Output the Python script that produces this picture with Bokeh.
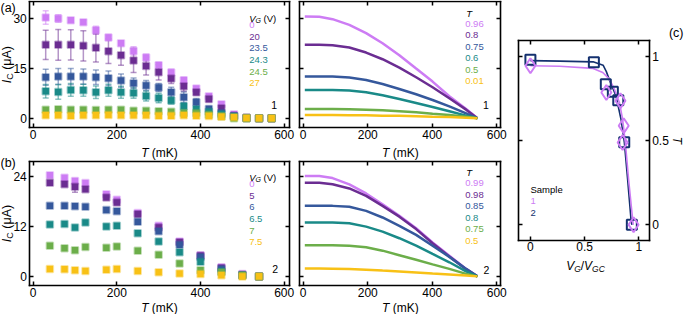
import math
from bokeh.plotting import figure
from bokeh.models import Range1d, LinearAxis, FixedTicker, Label
from bokeh.embed import file_html
from bokeh.resources import INLINE

FONT = "Liberation Sans"

PINK = "#cd7cf4"
PURPLE = "#6b2d92"
BLUE = "#35589c"
TEAL = "#1a8a88"
GREEN = "#6cae4a"
YELLOW = "#f8c116"
NAVY = "#14316f"
COLORS = [PINK, PURPLE, BLUE, TEAL, GREEN, YELLOW]

# ---------------- (a) sample 1 : measured Ic(T) ----------------
T_a = [30, 60, 90, 120, 150, 180, 210, 240, 270, 300, 330, 360, 390, 420, 450, 480, 510, 540, 570]
VG_a = ["0", "20", "23.5", "24.3", "24.5", "27"]
Ic_a_0 = [30.2, 29.9, 29.4, 28.8, 26.4, 24.2, 22.5, 20.2, 18.2, 15.9, 13.7, 11.4, 8.9, 6.6, 4.2, 1.2, 0.2, 0.0, 0.0]
Ic_a_20 = [22.0, 22.0, 22.0, 21.7, 21.1, 20.1, 18.9, 17.3, 15.7, 13.8, 11.9, 9.6, 7.8, 5.8, 3.0, 0.8, 0.1, 0.0, 0.0]
Ic_a_235 = [12.3, 12.5, 12.5, 12.5, 12.3, 12.0, 11.3, 10.5, 9.8, 9.2, 7.8, 6.3, 4.8, 2.8, 1.6, 0.6, 0.1, 0.0, 0.0]
Ic_a_243 = [8.1, 7.9, 8.5, 8.4, 7.8, 8.4, 7.8, 7.6, 6.7, 6.1, 5.3, 3.6, 2.7, 2.0, 1.2, 0.6, 0.1, 0.0, 0.0]
Ic_a_245 = [2.6, 2.7, 2.6, 2.6, 2.5, 2.6, 2.6, 2.3, 2.3, 2.1, 2.0, 1.6, 1.6, 1.1, 0.6, 0.0, 0.0, 0.0, 0.0]
Ic_a_27 = [0.9, 0.9, 0.8, 0.9, 0.9, 1.0, 0.9, 0.9, 0.9, 0.8, 0.8, 0.9, 0.8, 0.7, 0.5, 0.3, 0.1, 0.0, 0.0]
err_a_0 = [2.0, 1.1, 0.7, 0.6, 1.2, 0.9, 0.7, 1.2, 1.0, 0.9, 1.0, 0.9, 0.7, 0.7, 0.6, 0.3, 0.2, 0.1, 0.1]
err_a_20 = [4.4, 4.6, 4.5, 4.5, 4.2, 3.7, 3.0, 3.6, 2.7, 2.3, 1.5, 1.5, 0.8, 0.8, 0.6, 0.3, 0.1, 0.1, 0.1]
err_a_235 = [2.4, 2.4, 2.4, 2.3, 2.2, 2.2, 2.0, 1.6, 1.5, 1.2, 1.5, 1.6, 1.1, 0.8, 0.5, 0.3, 0.1, 0.1, 0.1]
err_a_243 = [2.0, 2.2, 1.9, 1.8, 1.9, 1.8, 1.8, 1.6, 1.5, 1.4, 1.0, 0.9, 0.5, 0.4, 0.3, 0.2, 0.1, 0.1, 0.1]
err_a_245 = [0.3, 0.3, 0.3, 0.3, 0.3, 0.3, 0.3, 0.3, 0.3, 0.3, 0.3, 0.3, 0.3, 0.2, 0.2, 0.1, 0.1, 0.1, 0.1]
err_a_27 = [0.2, 0.2, 0.2, 0.2, 0.2, 0.2, 0.2, 0.2, 0.2, 0.2, 0.2, 0.2, 0.2, 0.2, 0.2, 0.1, 0.1, 0.1, 0.1]

# ---------------- (a) sample 1 : model curves ----------------
T_fit = [5, 50, 91, 143, 195, 246, 298, 350, 401, 453, 505, 540]
TAU_a = ["0.96", "0.8", "0.75", "0.6", "0.5", "0.01"]
fit_a_096 = [30.5, 30.4, 29.7, 28.0, 25.5, 22.5, 18.9, 14.9, 11.0, 6.6, 2.8, 0.0]
fit_a_080 = [22.0, 22.0, 21.9, 21.2, 19.7, 17.7, 15.2, 12.3, 9.3, 6.0, 2.6, 0.0]
fit_a_075 = [12.5, 12.5, 12.5, 12.2, 11.5, 10.3, 8.8, 7.2, 5.5, 3.6, 1.5, 0.0]
fit_a_060 = [8.5, 8.5, 8.5, 8.3, 7.8, 6.9, 5.8, 4.6, 3.4, 2.1, 0.8, 0.0]
fit_a_050 = [2.8, 2.8, 2.8, 2.7, 2.6, 2.4, 2.1, 1.8, 1.4, 1.0, 0.5, 0.0]
fit_a_001 = [1.0, 1.0, 1.0, 0.95, 0.9, 0.8, 0.75, 0.65, 0.5, 0.4, 0.2, 0.0]

# ---------------- (b) sample 2 : measured Ic(T) ----------------
T_b = [40, 75, 100, 125, 175, 200, 250, 300, 350, 400, 450, 500, 540]
VG_b = ["0", "5", "6", "6.5", "7", "7.5"]
Ic_b_0 = [24.4, 23.8, 23.0, 22.5, 19.8, 18.5, 15.3, 12.2, 8.4, 5.1, 2.2, 0.6, 0.0]
Ic_b_5 = [22.6, 22.2, 21.6, 21.0, 19.0, 17.8, 15.0, 11.8, 8.2, 5.0, 2.0, 0.4, 0.0]
Ic_b_6 = [17.0, 17.0, 16.9, 16.8, 16.0, 15.7, 13.2, 10.9, 7.6, 4.7, 1.8, 0.3, 0.0]
Ic_b_65 = [12.5, 12.6, 11.8, 13.0, 12.0, 12.2, 10.4, 8.4, 5.8, 3.5, 1.2, 0.3, 0.0]
Ic_b_7 = [7.4, 6.8, 6.3, 7.1, 6.9, 7.2, 6.2, 5.2, 3.1, 1.5, 1.0, 0.3, 0.0]
Ic_b_75 = [1.8, 1.7, 1.5, 1.3, 1.6, 1.8, 1.3, 1.0, 0.7, 0.6, 0.3, 0.0, 0.0]
err_b_0 = [0.3, 0.3, 0.6, 0.3, 0.3, 0.3, 0.3, 0.3, 0.3, 0.3, 0.2, 0.1, 0.1]
err_b_5 = [0.3, 0.3, 1.3, 0.3, 0.3, 0.3, 0.3, 0.3, 0.3, 0.3, 0.2, 0.1, 0.1]

# ---------------- (b) sample 2 : model curves ----------------
TAU_b = ["0.99", "0.98", "0.85", "0.8", "0.75", "0.5"]
fit_b_099 = [24.2, 24.2, 23.7, 22.2, 20.0, 17.4, 14.6, 11.6, 8.2, 5.0, 1.8, 0.0]
fit_b_098 = [22.6, 22.6, 22.2, 21.2, 19.4, 17.0, 14.4, 11.4, 8.0, 4.8, 1.7, 0.0]
fit_b_085 = [17.0, 17.0, 17.0, 16.8, 15.8, 14.2, 12.2, 10.0, 7.4, 4.7, 1.8, 0.0]
fit_b_080 = [13.0, 13.0, 13.0, 12.8, 12.0, 10.8, 9.2, 7.4, 5.4, 3.4, 1.2, 0.0]
fit_b_075 = [7.5, 7.5, 7.5, 7.4, 7.0, 6.2, 5.1, 4.0, 2.9, 1.8, 0.6, 0.0]
fit_b_050 = [1.9, 1.9, 1.85, 1.75, 1.6, 1.4, 1.2, 0.95, 0.7, 0.45, 0.2, 0.0]

# ---------------- (c) transparency vs VG/VGC ----------------
x_s2 = [0.0, 0.585, 0.695, 0.76, 0.81, 0.865, 0.935]
tau_s2 = [0.98, 0.965, 0.835, 0.79, 0.74, 0.49, 0.0]
x_s1 = [0.0, 0.70, 0.83, 0.86, 0.85, 0.951]
tau_s1 = [0.945, 0.786, 0.737, 0.588, 0.489, 0.0]
xfit_s2 = [0.0, 0.27, 0.578, 0.67, 0.70, 0.728, 0.789, 0.835, 0.866, 0.896, 0.927, 0.936]
taufit_s2 = [0.975, 0.972, 0.968, 0.948, 0.91, 0.861, 0.766, 0.627, 0.49, 0.271, 0.033, 0.0]
xfit_s1 = [0.0, 0.27, 0.578, 0.667, 0.728, 0.774, 0.82, 0.85, 0.875, 0.905, 0.936, 0.948]
taufit_s1 = [0.945, 0.942, 0.929, 0.905, 0.865, 0.806, 0.727, 0.627, 0.49, 0.27, 0.073, 0.0]

# ------------------------------------------------------------------
CW, CH = 684, 314
W = {'T': .611, ' ': .278, '(': .333, ')': .333, 'm': .833, 'K': .667, 'V': .667,
     'G': .778, 'C': .722, '/': .278, 'I': .278, 'μ': .576, 'A': .667}


def tw(s, size):
    return sum(W.get(c, .556) for c in s) * size


p = figure(width=CW, height=CH, x_range=Range1d(0, CW), y_range=Range1d(CH, 0),
           x_axis_type=None, y_axis_type=None, output_backend="svg", toolbar_location=None,
           min_border_left=0, min_border_right=0, min_border_top=0, min_border_bottom=0)
p.outline_line_color = None
p.background_fill_color = "white"
p.border_fill_color = "white"

XR, YR = {}, {}


def style_axis(ax, ticks, labels, overrides, standoff):
    ax.ticker = FixedTicker(ticks=ticks)
    ax.major_tick_in = 4
    ax.major_tick_out = 0
    ax.minor_tick_line_color = None
    ax.major_tick_line_color = "black"
    ax.major_tick_line_width = 1.5
    ax.axis_line_color = "black"
    ax.axis_line_width = 1.6
    ax.axis_line_cap = "square"
    ax.major_label_text_font = FONT
    ax.major_label_text_font_size = "12px"
    ax.major_label_text_color = "black"
    if labels:
        ax.major_label_standoff = standoff
        if overrides:
            ax.major_label_overrides = overrides
    else:
        ax.major_label_standoff = 0
        ax.major_label_overrides = {t: "" for t in ticks}


def add_panel(name, box, xr, yr, xt, yt, yside="left", over=None):
    L, R, Tp, B = box
    x0, x1 = xr
    y0, y1 = yr
    sx = (x1 - x0) / (R - L)
    sy = (y1 - y0) / (B - Tp)
    XR[name] = Range1d(x0 - L * sx, x1 + (CW - R) * sx)
    YR[name] = Range1d(y0 - (CH - B) * sy, y1 + Tp * sy)
    for side, loc, dim in [("below", y0, "x"), ("above", y1, "x"), ("left", x0, "y"), ("right", x1, "y")]:
        ax = LinearAxis(x_range_name=name, y_range_name=name, fixed_location=loc)
        ax.bounds = (x0, x1) if dim == "x" else (y0, y1)
        labels = side == "below" or side == yside
        style_axis(ax, xt if dim == "x" else yt, labels, over, 2 if dim == "x" else 3)
        p.add_layout(ax, side)


def txt(x, y, text, size, color="black", style="normal", align="left", baseline="middle", angle=0.0):
    p.add_layout(Label(x=x, y=y, text=text, text_font=FONT, text_font_size=f"{size}px",
                       text_color=color, text_font_style=style, text_align=align,
                       text_baseline=baseline, angle=angle))


def comp(cx, cy, parts, align="center", angle=0.0, color="black"):
    total = sum(tw(t, s) for t, s, _, _ in parts)
    main = parts[0][1]
    off = -total / 2 if align == "center" else 0.0
    for t, s, st, sh in parts:
        lead = len(t) - len(t.lstrip(" "))
        off += tw(" " * lead, s)
        t = t.lstrip(" ")
        base = 0.36 * main + sh
        if angle == 0:
            x, y = cx + off, cy + base
        else:
            x, y = cx + base, cy - off
        txt(x, y, t, s, color=color, style=st, baseline="alphabetic", angle=angle)
        off += tw(t, s)


def draw_points(name, T, series, errs):
    for ys, es, c in zip(series, errs, COLORS):
        if es is None:
            continue
        xs = [t for t, e in zip(T, es) if e >= 0.5]
        lo = [y - e for y, e in zip(ys, es) if e >= 0.5]
        hi = [y + e for y, e in zip(ys, es) if e >= 0.5]
        p.segment(x0=xs, y0=lo, x1=xs, y1=hi, line_color=c, line_alpha=0.5, line_width=1.5,
                  x_range_name=name, y_range_name=name)
        p.scatter(x=xs + xs, y=lo + hi, marker="dash", size=6, line_color=c, line_alpha=0.5,
                  line_width=1.5, x_range_name=name, y_range_name=name)
    for ys, c in zip(series, COLORS):
        p.scatter(x=T, y=ys, marker="square", size=6.5, fill_color=c, line_color=c,
                  line_alpha=0.4, line_width=2.0, x_range_name=name, y_range_name=name)


def legend(x, y0, header, labels, step=11.55):
    if header == "VG":
        comp(x, y0, [("V", 9.5, "italic", 0), ("G", 7, "italic", 2.5), (" (V)", 9.5, "normal", 0)],
             align="left")
    else:
        txt(x + 1, y0, "T", 9.5, style="italic")
    for i, (lab, c) in enumerate(zip(labels, COLORS)):
        txt(x, y0 + 10.5 + step * i, lab, 9.5, color=c)


def T_label(cx, cy):
    comp(cx, cy, [("T", 12, "italic", 0), (" (mK)", 12, "normal", 0)])


def I_label(cx, cy):
    comp(cx, cy, [("I", 12.5, "italic", 0), ("C", 9, "normal", 3), (" (μA)", 12.5, "normal", 0)],
         angle=math.pi / 2)


# panel boxes (canvas px: left, right, top, bottom)
BOX_A1 = (29.3, 288.7, 1.3, 127.0)
BOX_A2 = (299.3, 500.3, 1.3, 127.0)
BOX_B1 = (29.3, 288.7, 161.0, 285.0)
BOX_B2 = (299.3, 500.3, 161.0, 285.0)
BOX_C = (518.3, 648.7, 40.3, 239.7)

XT = [0, 200, 400, 600]
add_panel("a1", BOX_A1, (-8, 612), (-2.75, 34.9), XT, [0, 15, 30])
add_panel("a2", BOX_A2, (-10.5, 612.5), (-2.75, 34.9), XT, [0, 15, 30], yside="none")
add_panel("b1", BOX_B1, (-8, 612), (-2.2, 27.7), XT, [0, 12, 24])
add_panel("b2", BOX_B2, (-10.5, 612.5), (-2.2, 27.7), XT, [0, 12, 24], yside="none")
ov = {0: "0", 0.5: "0.5", 1: "1"}
add_panel("c", BOX_C, (-0.107, 1.095), (-0.0915, 1.093), [0, 0.5, 1], [0, 0.5, 1], yside="right", over=ov)
p.extra_x_ranges = XR
p.extra_y_ranges = YR

# (a) left : data
draw_points("a1", T_a, [Ic_a_0, Ic_a_20, Ic_a_235, Ic_a_243, Ic_a_245, Ic_a_27],
            [err_a_0, err_a_20, err_a_235, err_a_243, err_a_245, err_a_27])
legend(248.7, 14.3, "VG", VG_a)
txt(273.7, 104.7, "1", 10.5, align="center")
T_label((BOX_A1[0] + BOX_A1[1]) / 2, BOX_A1[3] + 21)
I_label(2, (BOX_A1[2] + BOX_A1[3]) / 2)
txt(0, 7, "(a)", 12.5)

# (a) middle : model
for ys, c in zip([fit_a_096, fit_a_080, fit_a_075, fit_a_060, fit_a_050, fit_a_001], COLORS):
    p.line(T_fit, ys, line_color=c, line_width=2.5, x_range_name="a2", y_range_name="a2")
legend(464.7, 12.7, "T", TAU_a)
txt(485.3, 104.7, "1", 10.5, align="center")
T_label((BOX_A2[0] + BOX_A2[1]) / 2, BOX_A2[3] + 21)

# (b) left : data
draw_points("b1", T_b, [Ic_b_0, Ic_b_5, Ic_b_6, Ic_b_65, Ic_b_7, Ic_b_75],
            [err_b_0, err_b_5, None, None, None, None])
legend(248.7, 173.3, "VG", VG_b)
txt(274.7, 268.3, "2", 10.5, align="center")
T_label((BOX_B1[0] + BOX_B1[1]) / 2, BOX_B1[3] + 18.5)
I_label(2, (BOX_B1[2] + BOX_B1[3]) / 2)
txt(0, 162, "(b)", 12.5)

# (b) middle : model
for ys, c in zip([fit_b_099, fit_b_098, fit_b_085, fit_b_080, fit_b_075, fit_b_050], COLORS):
    p.line(T_fit, ys, line_color=c, line_width=2.5, x_range_name="b2", y_range_name="b2")
legend(464.7, 172.0, "T", TAU_b)
txt(486.0, 269.0, "2", 10.5, align="center")
T_label((BOX_B2[0] + BOX_B2[1]) / 2, BOX_B2[3] + 18.5)

# (c)
p.line(xfit_s2, taufit_s2, line_color=NAVY, line_width=1.6, x_range_name="c", y_range_name="c")
p.line(xfit_s1, taufit_s1, line_color=PINK, line_width=1.6, x_range_name="c", y_range_name="c")
p.scatter(x=x_s2, y=tau_s2, marker="square", size=10, fill_alpha=0, line_color=NAVY, line_width=2,
          x_range_name="c", y_range_name="c")
p.scatter(x=x_s1, y=tau_s1, marker="diamond", size=15, fill_alpha=0, line_color=PINK, line_width=2,
          x_range_name="c", y_range_name="c")
txt(530.0, 189.0, "Sample", 9.5)
txt(530.0, 200.5, "1", 9.5, color=PINK)
txt(530.0, 212.0, "2", 9.5, color=NAVY)
comp((BOX_C[0] + BOX_C[1]) / 2 + 1.5, BOX_C[3] + 21.5,
     [("V", 12, "italic", 0), ("G", 8.5, "italic", 3), ("/", 12, "normal", 0),
      ("V", 12, "italic", 0), ("GC", 8.5, "italic", 3)])
txt(676.0, (BOX_C[2] + BOX_C[3]) / 2, "T", 12, style="italic", align="center", angle=-math.pi / 2)
txt(683.0, 32.0, "(c)", 12.5, align="right")

open("out.html", "w").write(file_html(p, INLINE))
